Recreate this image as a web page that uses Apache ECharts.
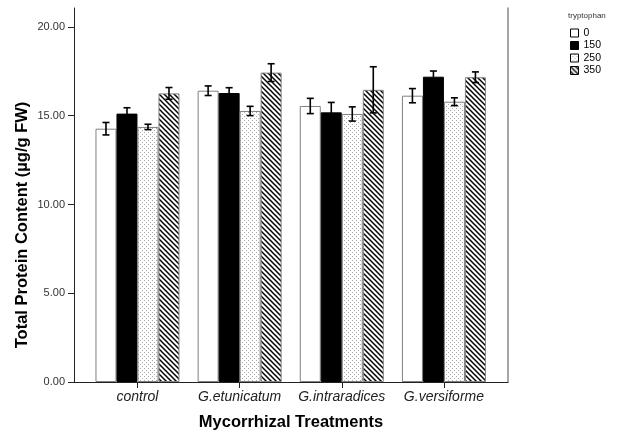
<!DOCTYPE html>
<html>
<head>
<meta charset="utf-8">
<script src="https://cdn.jsdelivr.net/npm/echarts@6/dist/echarts.min.js"></script>
<style>
html,body{margin:0;padding:0;background:#fff;}
#chart{width:619px;height:432px;}
</style>
</head>
<body>
<div id="chart"></div>
<script>
// ---- data ----
var categories = ['control', 'G.etunicatum', 'G.intraradices', 'G.versiforme'];
var seriesNames = ['0', '150', '250', '350'];
var means0   = [14.27, 16.41, 15.55, 16.13];
var means150 = [15.12, 16.28, 15.19, 17.20];
var means250 = [14.37, 15.27, 15.10, 15.79];
var means350 = [16.26, 17.43, 16.46, 17.17];
var err0   = [0.35, 0.27, 0.43, 0.40];
var err150 = [0.33, 0.30, 0.56, 0.32];
var err250 = [0.15, 0.26, 0.40, 0.22];
var err350 = [0.33, 0.50, 1.30, 0.30];
var yTicks = [0, 5, 10, 15, 20];
var legendTitle = 'tryptophan';
var xName = 'Mycorrhizal Treatments';
var yName = 'Total Protein Content (\u00b5g/g FW)';

// ---- patterns ----
function dotPattern() {
  var c = document.createElement('canvas'); c.width = 4; c.height = 4;
  var g = c.getContext('2d');
  g.fillStyle = '#ffffff'; g.fillRect(0, 0, 4, 4);
  g.fillStyle = '#a8a8a8';
  g.fillRect(0, 0, 1, 1); g.fillRect(2, 2, 1, 1);
  return c;
}
function hatchPattern() {
  var s = 5;
  var c = document.createElement('canvas'); c.width = s; c.height = s;
  var g = c.getContext('2d');
  g.fillStyle = '#ffffff'; g.fillRect(0, 0, s, s);
  g.strokeStyle = '#000'; g.lineWidth = 1.5;
  [-s, 0, s].forEach(function (o) {
    g.beginPath(); g.moveTo(o - 1, -1); g.lineTo(o + s + 1, s + 1); g.stroke();
  });
  return c;
}

var means = [means0, means150, means250, means350];
var errs = [err0, err150, err250, err350];
var fills = [
  '#ffffff',
  '#000000',
  { image: dotPattern(), repeat: 'repeat' },
  { image: hatchPattern(), repeat: 'repeat' }
];
var borders = ['#808080', '#000000', '#808080', '#808080'];
var BAR_W = 21;
var YMAX = 21.07;

var series = [];
seriesNames.forEach(function (name, i) {
  series.push({
    name: name, type: 'bar', xAxisIndex: 1, yAxisIndex: 2,
    barWidth: BAR_W, barGap: '0%',
    itemStyle: { color: fills[i], borderColor: borders[i], borderWidth: 1 },
    emphasis: { disabled: true },
    data: means[i]
  });
});
seriesNames.forEach(function (name, i) {
  var d = means[i].map(function (m, k) { return [k, m - errs[i][k], m + errs[i][k]]; });
  series.push({
    type: 'custom', xAxisIndex: 1, yAxisIndex: 2, z: 5,
    renderItem: function (params, api) {
      var off = (i - 1.5) * BAR_W;
      var lo = api.coord([api.value(0), api.value(1)]);
      var hi = api.coord([api.value(0), api.value(2)]);
      var x = lo[0] + off, cw = 3.5;
      var st = { stroke: '#000', lineWidth: 1.6 };
      return { type: 'group', children: [
        { type: 'line', shape: { x1: x, y1: lo[1], x2: x, y2: hi[1] }, style: st },
        { type: 'line', shape: { x1: x - cw, y1: lo[1], x2: x + cw, y2: lo[1] }, style: st },
        { type: 'line', shape: { x1: x - cw, y1: hi[1], x2: x + cw, y2: hi[1] }, style: st }
      ]};
    },
    data: d
  });
});

var chart = echarts.init(document.getElementById('chart'), null, { renderer: 'canvas' });
chart.setOption({
  backgroundColor: '#ffffff',
  animation: false,
  textStyle: { fontFamily: 'Liberation Sans, Arial, sans-serif' },
  grid: [
    { left: 74, right: 111, top: 8, bottom: 50 },
    { left: 86.4, right: 124, top: 8, bottom: 50 }
  ],
  xAxis: [
    { gridIndex: 0, type: 'value', min: 0, max: 1,
      axisLine: { show: true, onZero: false, lineStyle: { color: '#222', width: 1 } },
      axisTick: { show: false }, axisLabel: { show: false }, splitLine: { show: false } },
    { gridIndex: 1, type: 'category', data: categories,
      axisLine: { show: false },
      axisTick: { show: true, alignWithLabel: true, interval: 0, length: 6, lineStyle: { color: '#222' } },
      axisLabel: { margin: 8, fontSize: 14, fontStyle: 'italic', color: '#222', interval: 0, hideOverlap: false },
      splitLine: { show: false } }
  ],
  yAxis: [
    { gridIndex: 0, type: 'value', min: 0, max: YMAX, position: 'left',
      axisLine: { show: true, lineStyle: { color: '#222', width: 1 } },
      axisTick: { show: true, length: 6, customValues: yTicks, lineStyle: { color: '#222' } },
      axisLabel: { margin: 9, fontSize: 11, color: '#333', customValues: yTicks,
        formatter: function (v) { return v.toFixed(2); } },
      splitLine: { show: false } },
    { gridIndex: 0, type: 'value', min: 0, max: YMAX, position: 'right',
      axisLine: { show: true, lineStyle: { color: '#888', width: 1.5 } },
      axisTick: { show: false }, axisLabel: { show: false }, splitLine: { show: false } },
    { gridIndex: 1, type: 'value', min: 0, max: YMAX, show: false, splitLine: { show: false } }
  ],
  legend: {
    data: seriesNames, orient: 'vertical', left: 570, top: 27,
    itemWidth: 8, itemHeight: 8, itemGap: 0.5, padding: 0,
    icon: 'rect', selectedMode: false,
    itemStyle: { borderColor: '#000', borderWidth: 1 },
    textStyle: { fontSize: 10.5, color: '#000', lineHeight: 12 }
  },
  graphic: [
    { type: 'text', left: 568, top: 12, style: { text: legendTitle, fontSize: 8, fill: '#333',
      fontFamily: 'Liberation Sans, Arial, sans-serif' } },
    { type: 'text', x: 291, y: 422, style: { text: xName, fontSize: 16.5, fontWeight: 'bold', fill: '#000',
      align: 'center', verticalAlign: 'middle', fontFamily: 'Liberation Sans, Arial, sans-serif' } },
    { type: 'text', x: 22, y: 225, rotation: Math.PI / 2, style: { text: yName, fontSize: 16.5, fontWeight: 'bold', fill: '#000',
      align: 'center', verticalAlign: 'middle', fontFamily: 'Liberation Sans, Arial, sans-serif' } }
  ],
  series: series
});
</script>
</body>
</html>
